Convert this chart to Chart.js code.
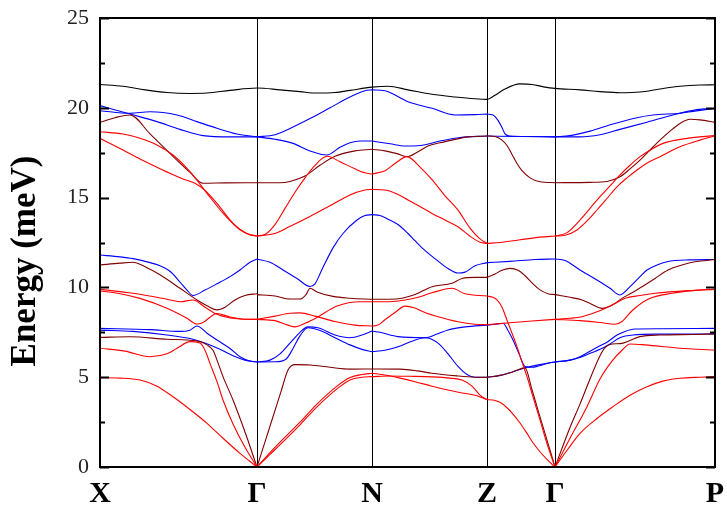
<!DOCTYPE html>
<html>
<head>
<meta charset="utf-8">
<script src="https://cdn.jsdelivr.net/npm/chart.js@4.4.1/dist/chart.umd.min.js"></script>
<style>html,body{margin:0;background:#fff}</style>
</head>
<body>
<canvas id="bands" width="727" height="532"></canvas>
<script>
// high-symmetry points along the path (path distance, arbitrary units)
const kLabels = ['X', 'Γ', 'N', 'Z', 'Γ', 'P'];
const kTicks = [0, 157, 272, 387, 455, 615];
const yTicks = [0, 5, 10, 15, 20, 25];

// each curve is a list of [k, energy (meV)]
const blackBand = [[0,21.3],[23,21.2],[45,21.0],[67,20.85],[90,20.8],[107,20.82],[130,20.97],[157,21.1],[180,21.0],[200,20.9],[217,20.82],[235,20.85],[250,20.97],[272,21.15],[288,21.2],[308,21.0],[332,20.75],[355,20.6],[375,20.5],[387,20.47],[395,20.7],[405,21.05],[420,21.33],[432,21.3],[445,21.15],[455,21.08],[480,21.0],[500,20.9],[520,20.84],[540,20.88],[560,21.05],[580,21.2],[600,21.27],[615,21.28]];

// X - Γ
const redXG = [
  [[0,18.67],[23,18.54],[40,18.3],[57,17.93],[73,17.37],[90,16.44],[107,15.24],[123,14.13],[140,13.2],[150,12.92],[157,12.86]],
  [[0,18.3],[23,17.65],[40,17.15],[57,16.69],[72,16.3],[83,16.04],[95,15.8],[105,15.4],[117,14.68],[133,13.57],[147,13.0],[157,12.86]],
  [[0,9.89],[33,9.67],[67,9.34],[80,9.2],[93,9.3],[105,8.9],[117,8.5],[130,8.3],[140,8.24],[157,8.22]],
  [[0,9.8],[20,9.65],[40,9.39],[67,8.84],[87,8.28],[97,7.96],[103,8.05],[117,8.55],[130,8.35],[145,8.23],[157,8.22]],
  [[0,6.61],[25,6.45],[50,6.14],[67,6.3],[77,6.61],[90,6.98],[100,6.9],[105,6.5],[110,5.77],[117,4.75],[123,3.73],[133,2.4],[145,1.1],[157,0]],
  [[0,4.97],[20,4.95],[40,4.84],[57,4.5],[73,3.91],[90,3.2],[107,2.43],[123,1.6],[140,0.76],[157,0]]
];
const brownXG = [
  [[0,19.19],[15,19.45],[30,19.6],[50,18.55],[73,17.3],[90,16.4],[103,15.8],[125,15.82],[157,15.83]],
  [[0,11.25],[20,11.35],[33,11.4],[45,11.15],[60,10.7],[80,9.95],[97,9.3],[108,8.95],[117,8.75],[125,8.9],[135,9.3],[145,9.55],[157,9.65]],
  [[0,7.22],[30,7.25],[67,7.11],[87,7.07],[100,6.98],[107,6.8],[113,6.5],[118,5.8],[123,5.03],[133,3.73],[145,1.95],[157,0]]
];
const blueXG = [
  [[0,20.12],[30,19.65],[57,19.23],[80,18.8],[103,18.45],[130,18.38],[157,18.38]],
  [[0,19.84],[30,19.69],[50,19.78],[77,19.6],[97,19.23],[117,18.86],[137,18.54],[157,18.38]],
  [[0,11.8],[20,11.7],[33,11.6],[50,11.38],[60,11.2],[70,10.9],[80,10.3],[87,9.85],[93,9.55],[105,9.85],[117,10.2],[130,10.6],[140,10.97],[150,11.4],[157,11.58]],
  [[0,7.72],[50,7.65],[80,7.55],[90,7.62],[97,7.85],[107,7.45],[117,7.07],[130,6.6],[140,6.14],[150,5.9],[157,5.85]],
  [[0,7.62],[33,7.55],[67,7.35],[93,7.11],[110,6.79],[122,6.5],[133,6.2],[145,5.95],[157,5.85]]
];

// Γ - N
const redGN = [
  [[157,12.86],[165,12.95],[175,13.5],[185,14.4],[195,15.3],[205,16.1],[215,16.8],[227,17.3],[240,17.0],[255,16.6],[265,16.38],[272,16.31]],
  [[157,12.86],[175,13.0],[190,13.4],[210,13.95],[230,14.55],[250,15.15],[265,15.42],[272,15.46]],
  [[157,8.22],[175,8.4],[190,8.56],[200,8.58],[215,8.4],[235,8.1],[255,7.9],[272,7.85]],
  [[157,8.22],[175,8.15],[188,7.9],[195,7.8],[205,8.0],[217,8.33],[237,8.96],[260,9.2],[272,9.2]],
  [[157,0],[170,0.8],[183,1.55],[200,2.5],[217,3.5],[237,4.5],[250,4.98],[262,5.15],[272,5.22]],
  [[157,0],[170,0.7],[183,1.4],[200,2.35],[217,3.35],[237,4.35],[250,4.85],[262,5.0],[272,5.03]]
];
const brownGN = [
  [[157,15.83],[180,15.83],[190,15.9],[205,16.2],[220,16.8],[235,17.3],[255,17.6],[272,17.69]],
  [[157,9.6],[175,9.52],[190,9.35],[200,9.35],[206,9.6],[210,9.95],[217,9.75],[233,9.5],[250,9.4],[272,9.34]],
  [[157,0],[165,1.4],[173,2.8],[181,4.2],[188,5.4],[195,5.7],[210,5.68],[230,5.55],[250,5.45],[272,5.46]]
];
const blueGN = [
  [[157,18.38],[175,18.5],[190,18.85],[210,19.4],[230,20.0],[250,20.6],[265,20.95],[272,21.0]],
  [[157,18.38],[175,18.25],[193,18.02],[210,17.6],[227,17.37],[240,17.8],[250,18.05],[260,18.15],[272,18.15]],
  [[157,11.58],[170,11.4],[183,10.97],[197,10.5],[210,10.05],[215,10.2],[222,11.0],[233,12.2],[243,13.0],[257,13.75],[265,14.0],[272,14.05]],
  [[157,5.85],[170,5.95],[180,6.3],[190,6.9],[200,7.5],[208,7.8],[218,7.75],[235,7.35],[250,7.2],[262,7.35],[272,7.57]],
  [[157,5.85],[175,5.86],[186,6.0],[193,6.6],[200,7.3],[208,7.75],[220,7.6],[235,7.2],[250,6.8],[262,6.55],[272,6.42]]
];

// N - Z
const redNZ = [
  [[272,16.31],[285,16.5],[295,16.9],[307,17.28],[320,16.7],[332,16.0],[345,15.1],[358,14.3],[370,13.3],[380,12.7],[387,12.45]],
  [[272,15.46],[285,15.42],[297,15.2],[308,14.87],[320,14.5],[332,14.12],[345,13.75],[358,13.38],[370,12.85],[380,12.52],[387,12.45]],
  [[272,9.2],[290,9.2],[305,9.3],[318,9.45],[332,9.7],[352,9.95],[365,9.65],[387,9.52]],
  [[272,7.85],[278,7.9],[285,8.2],[295,8.6],[305,8.96],[315,8.85],[325,8.6],[338,8.37],[358,8.09],[375,7.95],[387,7.92]],
  [[272,5.22],[285,5.12],[300,4.95],[315,4.75],[332,4.5],[348,4.29],[362,4.12],[375,4.0],[387,3.75]],
  [[272,5.03],[290,5.07],[310,5.05],[332,5.02],[350,4.95],[362,4.84],[372,4.5],[380,4.0],[387,3.75]]
];
const brownNZ = [
  [[272,17.69],[285,17.6],[297,17.45],[307,17.28],[318,17.55],[328,17.87],[340,18.05],[352,18.2],[368,18.38],[387,18.43]],
  [[272,9.34],[290,9.34],[302,9.4],[315,9.6],[332,10.04],[352,10.23],[362,10.5],[375,10.56],[387,10.56]],
  [[272,5.46],[300,5.45],[318,5.35],[332,5.22],[358,5.07],[375,5.0],[387,4.99]]
];
const blueNZ = [
  [[272,21.0],[285,20.95],[308,20.34],[332,19.97],[355,19.6],[375,19.62],[387,19.65]],
  [[272,18.15],[290,18.0],[305,17.87],[320,17.9],[340,18.15],[360,18.35],[387,18.43]],
  [[272,14.05],[280,14.0],[288,13.8],[298,13.5],[308,13.0],[315,12.6],[322,12.2],[335,11.6],[348,11.05],[358,10.8],[365,10.85],[375,11.2],[387,11.38]],
  [[272,7.57],[280,7.5],[298,7.26],[325,7.2],[337,7.4],[348,7.63],[365,7.8],[387,7.9]],
  [[272,6.42],[285,6.5],[298,6.7],[312,7.0],[325,7.2],[338,6.9],[348,6.3],[358,5.6],[367,5.15],[375,5.0],[387,4.99]]
];

// Z - Γ
const redZG = [
  [[387,12.45],[400,12.5],[420,12.65],[440,12.8],[455,12.86]],
  [[387,9.52],[393,9.45],[397,9.3],[402,8.9],[407,8.18],[412,7.45],[417,6.7],[422,5.85],[427,5.03],[433,3.9],[440,2.62],[447,1.3],[455,0]],
  [[387,7.92],[410,8.03],[432,8.13],[455,8.22]],
  [[387,3.75],[393,3.73],[400,3.6],[407,3.3],[413,2.95],[420,2.45],[427,1.87],[433,1.35],[440,0.85],[447,0.42],[455,0]]
];
const brownZG = [
  [[387,18.43],[395,18.4],[402,18.2],[407,17.9],[412,17.4],[417,16.9],[422,16.5],[430,16.1],[440,15.88],[455,15.83]],
  [[387,10.56],[395,10.75],[402,10.95],[410,11.06],[418,10.95],[425,10.65],[433,10.2],[440,9.86],[448,9.65],[455,9.6]],
  [[387,4.99],[400,5.1],[413,5.3],[425,5.52],[432,4.3],[440,2.79],[447,1.5],[455,0]]
];
const blueZG = [
  [[387,19.65],[393,19.6],[398,19.3],[402,18.9],[405,18.55],[410,18.43],[430,18.4],[455,18.38]],
  [[387,18.43],[420,18.4],[455,18.38]],
  [[387,11.38],[410,11.45],[435,11.55],[455,11.58]],
  [[387,7.9],[395,7.95],[403,8.0],[408,7.6],[413,7.07],[419,6.3],[425,5.6],[432,5.55],[440,5.65],[448,5.78],[455,5.85]],
  [[387,4.99],[400,5.1],[413,5.3],[425,5.52],[440,5.7],[455,5.85]]
];

// Γ - P
const redGP = [
  [[455,12.86],[467,13.05],[480,13.75],[490,14.4],[500,15.05],[510,15.65],[520,16.26],[530,16.8],[540,17.28],[552,17.7],[563,18.02],[587,18.3],[615,18.45]],
  [[455,12.86],[465,12.9],[477,13.2],[487,13.7],[497,14.31],[507,14.95],[517,15.6],[527,16.1],[537,16.54],[548,16.95],[560,17.28],[580,17.83],[600,18.2],[615,18.43]],
  [[455,8.22],[470,8.28],[482,8.37],[495,8.6],[505,8.83],[515,9.1],[525,9.39],[540,9.55],[555,9.67],[588,9.82],[615,9.89]],
  [[455,8.22],[480,8.15],[500,8.05],[515,7.95],[522,8.1],[532,8.7],[548,9.34],[572,9.67],[602,9.86],[615,9.89]],
  [[455,0],[470,1.6],[487,3.36],[500,4.9],[513,5.96],[522,6.5],[530,6.85],[545,6.8],[580,6.61],[615,6.51]],
  [[455,0],[468,1.0],[480,1.87],[497,2.7],[513,3.36],[530,4.0],[547,4.47],[563,4.78],[580,4.94],[600,5.0],[615,5.03]]
];
const brownGP = [
  [[455,15.83],[490,15.85],[507,15.9],[520,16.16],[530,16.6],[540,17.09],[550,17.65],[560,18.2],[570,18.7],[580,19.13],[590,19.36],[600,19.33],[615,19.19]],
  [[455,9.6],[470,9.45],[482,9.3],[492,9.05],[502,8.83],[512,9.0],[522,9.39],[532,9.7],[542,10.04],[555,10.5],[568,10.97],[582,11.25],[595,11.43],[615,11.55]],
  [[455,0],[470,2.2],[480,3.5],[490,4.9],[500,6.2],[505,6.65],[512,6.85],[520,6.87],[540,7.26],[560,7.35],[593,7.38],[615,7.41]]
];
const blueGP = [
  [[455,18.38],[470,18.45],[490,18.7],[513,19.1],[537,19.45],[553,19.6],[580,19.7],[593,19.8],[615,19.97]],
  [[455,18.38],[480,18.38],[500,18.5],[520,18.8],[547,19.2],[573,19.6],[597,19.9],[615,19.97]],
  [[455,11.58],[465,11.5],[480,10.97],[497,10.41],[510,9.95],[520,9.58],[530,10.04],[540,10.6],[547,10.97],[557,11.25],[567,11.43],[590,11.53],[615,11.55]],
  [[455,5.85],[470,5.95],[480,6.14],[490,6.45],[500,6.75],[507,6.95],[517,7.35],[525,7.55],[535,7.68],[560,7.7],[615,7.72]],
  [[455,5.85],[470,5.95],[480,6.1],[490,6.33],[500,6.55],[510,6.85],[520,7.2],[533,7.35],[560,7.4],[615,7.41]]
];

const colors = { red: '#ff0000', brown: '#800000', blue: '#0000ff', black: '#000000' };

const groups = [
  ['red', [...redXG, ...redGN, ...redNZ, ...redZG, ...redGP]],
  ['brown', [...brownXG, ...brownGN, ...brownNZ, ...brownZG, ...brownGP]],
  ['blue', [...blueXG, ...blueGN, ...blueNZ, ...blueZG, ...blueGP]],
  ['black', [blackBand]]
];

const datasets = [];
groups.forEach(([c, curves]) => {
  curves.forEach(pts => datasets.push({
    data: pts.map(([x, y]) => ({ x, y })),
    borderColor: colors[c],
    borderWidth: 1.1,
    pointRadius: 0,
    fill: false,
    cubicInterpolationMode: 'monotone'
  }));
});

// frame, inward ticks and the y title
const framePlugin = {
  id: 'frame',
  afterDraw(chart) {
    const { ctx, chartArea: a, scales: { y } } = chart;
    ctx.save();
    ctx.strokeStyle = '#000';
    ctx.lineWidth = 2;
    ctx.strokeRect(a.left, a.top, a.right - a.left, a.bottom - a.top);
    for (let v = 0; v <= 25; v += 2.5) {
      const py = Math.round(y.getPixelForValue(v)) + 0.5;
      const len = v % 5 === 0 ? 9 : 5;
      ctx.beginPath();
      ctx.moveTo(a.left, py); ctx.lineTo(a.left + len, py);
      ctx.moveTo(a.right, py); ctx.lineTo(a.right - len, py);
      ctx.stroke();
    }
    ctx.translate(35, 261);
    ctx.rotate(-Math.PI / 2);
    ctx.font = 'bold 35px "Liberation Serif"';
    ctx.fillStyle = '#000';
    ctx.textAlign = 'center';
    ctx.textBaseline = 'alphabetic';
    ctx.fillText('Energy (meV)', 0, 0);
    ctx.restore();
  }
};

new Chart(document.getElementById('bands'), {
  type: 'line',
  data: { datasets },
  options: {
    responsive: false,
    animation: false,
    layout: { padding: { left: 0, right: 12, top: 18, bottom: 0 } },
    plugins: { legend: { display: false }, tooltip: { enabled: false } },
    scales: {
      x: {
        type: 'linear', min: 0, max: 615,
        afterBuildTicks: s => { s.ticks = kTicks.map(v => ({ value: v })); },
        afterFit: s => { s.height = 65; s.paddingLeft = 0; s.paddingRight = 0; },
        ticks: {
          autoSkip: false, maxRotation: 0, padding: 9, color: '#000',
          font: { family: 'Liberation Serif', size: 30, weight: 'bold' },
          callback: (v, i) => kLabels[i]
        },
        grid: { color: '#000', lineWidth: 1, drawTicks: false },
        border: { display: false }
      },
      y: {
        min: 0, max: 25,
        afterBuildTicks: s => { s.ticks = yTicks.map(v => ({ value: v })); },
        afterFit: s => { s.width = 100; s.paddingTop = 0; s.paddingBottom = 0; },
        ticks: { padding: 11, color: '#222', font: { family: 'Liberation Serif', size: 22 } },
        grid: { display: false, drawTicks: false },
        border: { display: false }
      }
    }
  },
  plugins: [framePlugin]
});
</script>
</body>
</html>
